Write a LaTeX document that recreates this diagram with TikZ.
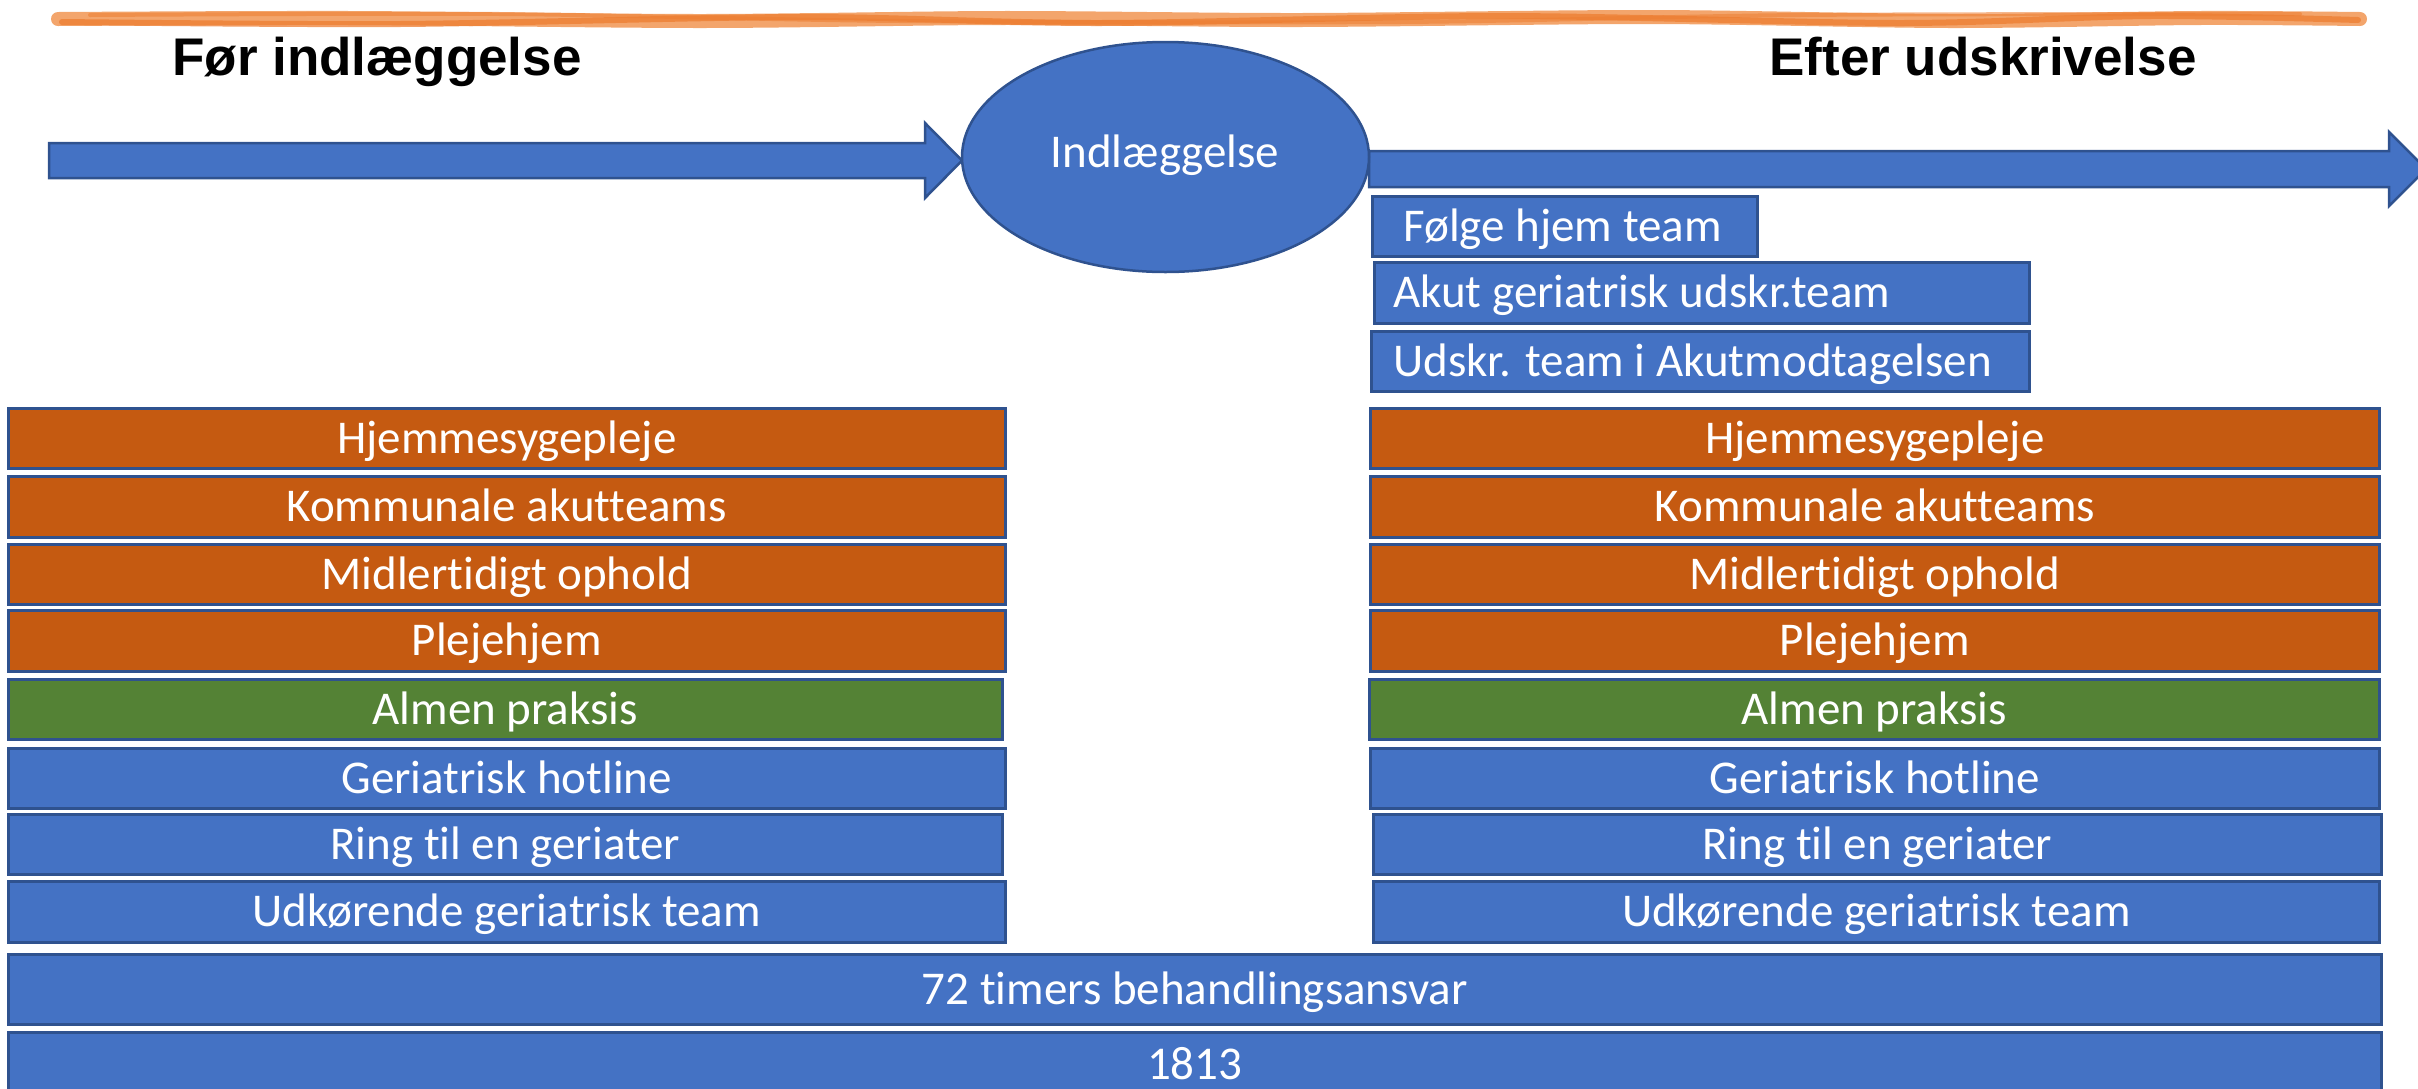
\documentclass[tikz,border=0pt]{standalone}
\usepackage{fontspec}
\setmainfont{Carlito}[Ligatures={NoCommon}]
\newfontfamily\titlefont{Liberation Sans}
\usetikzlibrary{shapes.geometric}
\definecolor{bfill}{HTML}{4472C4}
\definecolor{bline}{HTML}{2F528F}
\definecolor{ofill}{HTML}{C55A11}
\definecolor{gfill}{HTML}{548235}
\definecolor{sqa}{HTML}{F3A56C}
\definecolor{sqb}{HTML}{ED7D31}
\begin{document}
\begin{tikzpicture}[x=1pt,y=-1pt,
  boxtext/.style={text=white, font=\fontsize{47}{56}\selectfont, text height=30pt, text depth=0pt, inner sep=0pt},
  box/.style={boxtext, draw=bline, line width=2.5pt, anchor=north west},
  bluebox/.style={box, fill=bfill},
  orangebox/.style={box, fill=ofill},
  greenbox/.style={box, fill=gfill},
  blockarrow/.style={fill=bfill, draw=bline, line width=2.5pt, line join=miter},
  heading/.style={font=\titlefont\bfseries\fontsize{53}{64}\selectfont, text=black, anchor=base, inner sep=0pt}]
\useasboundingbox (0,0) rectangle (2418,1088);
\clip (0,0) rectangle (2418,1088);

% orange squiggle
\draw[sqa, line width=14pt, line cap=round] plot[smooth] coordinates {(58,19) (350,18) (700,21) (1000,18) (1300,20) (1650,17) (1950,21) (2200,18) (2360,19)};
\draw[sqb, line width=6pt, line cap=round, opacity=0.75] plot[smooth] coordinates {(62,22) (400,24) (800,17) (1100,23) (1500,16) (1900,23) (2150,16) (2358,20)};
\draw[sqb, line width=4pt, line cap=round, opacity=0.55] plot[smooth] coordinates {(90,15) (500,14) (900,21) (1400,22) (1800,15) (2300,14)};

% headings
\node[heading] (tl) at (377,75) {Før indlæggelse};
\node[heading] (tr) at (1983,75) {Efter udskrivelse};

% block arrows
\draw[blockarrow] (49,143) -- (925,143) -- (925,123) -- (962,160.5) -- (925,198) -- (925,178) -- (49,178) -- cycle;
\draw[blockarrow] (1369,151) -- (2389,151) -- (2389,132) -- (2426,169) -- (2389,206) -- (2389,187) -- (1369,187) -- cycle;

% admission ellipse
\node[ellipse, draw=bline, fill=bfill, line width=2.5pt, minimum width=407pt, minimum height=230pt,
  inner sep=0pt] (adm) at (1165.5,157) {};
\node[boxtext] (admtext) at (1165,152) {Indlæggelse};

% after-discharge teams
\node[bluebox, minimum width=385pt, minimum height=60pt] (f1) at (1371,195) {};
\node[boxtext, anchor=west] (f1t) at ([xshift=32pt]f1.west) {Følge hjem team};
\node[bluebox, minimum width=655pt, minimum height=61pt] (f2) at (1373,261) {};
\node[boxtext, anchor=west] (f2t) at ([xshift=20pt]f2.west) {Akut geriatrisk udskr.team};
\node[bluebox, minimum width=658pt, minimum height=60pt] (f3) at (1370,330) {};
\node[boxtext, anchor=west] (f3t) at ([xshift=23pt]f3.west) {Udskr. team i Akutmodtagelsen};

% left column
\node[orangebox, minimum width=997pt, minimum height=60pt] (l1) at (7,407) {Hjemmesygepleje};
\node[orangebox, minimum width=997pt, minimum height=61pt] (l2) at (7,475) {Kommunale akutteams};
\node[orangebox, minimum width=997pt, minimum height=60pt] (l3) at (7,543) {Midlertidigt ophold};
\node[orangebox, minimum width=997pt, minimum height=61pt] (l4) at (7,609) {Plejehjem};
\node[greenbox, minimum width=994pt, minimum height=60pt] (l5) at (7,678) {Almen praksis};
\node[bluebox, minimum width=997pt, minimum height=60pt] (l6) at (7,747) {Geriatrisk hotline};
\node[bluebox, minimum width=994pt, minimum height=60pt] (l7) at (7,813) {Ring til en geriater};
\node[bluebox, minimum width=997pt, minimum height=61pt] (l8) at (7,880) {Udkørende geriatrisk team};

% right column
\node[orangebox, minimum width=1009pt, minimum height=60pt] (r1) at (1369,407) {Hjemmesygepleje};
\node[orangebox, minimum width=1009pt, minimum height=61pt] (r2) at (1369,475) {Kommunale akutteams};
\node[orangebox, minimum width=1009pt, minimum height=60pt] (r3) at (1369,543) {Midlertidigt ophold};
\node[orangebox, minimum width=1009pt, minimum height=61pt] (r4) at (1369,609) {Plejehjem};
\node[greenbox, minimum width=1010pt, minimum height=60pt] (r5) at (1368,678) {Almen praksis};
\node[bluebox, minimum width=1009pt, minimum height=60pt] (r6) at (1369,747) {Geriatrisk hotline};
\node[bluebox, minimum width=1008pt, minimum height=60pt] (r7) at (1372,813) {Ring til en geriater};
\node[bluebox, minimum width=1006pt, minimum height=61pt] (r8) at (1372,880) {Udkørende geriatrisk team};

% full-width bars
\node[bluebox, minimum width=2373pt, minimum height=70pt] (b72) at (7,953) {72 timers behandlingsansvar};
\node[bluebox, minimum width=2373pt, minimum height=64pt] (b1813) at (7,1031) {1813};
\end{tikzpicture}
\end{document}
